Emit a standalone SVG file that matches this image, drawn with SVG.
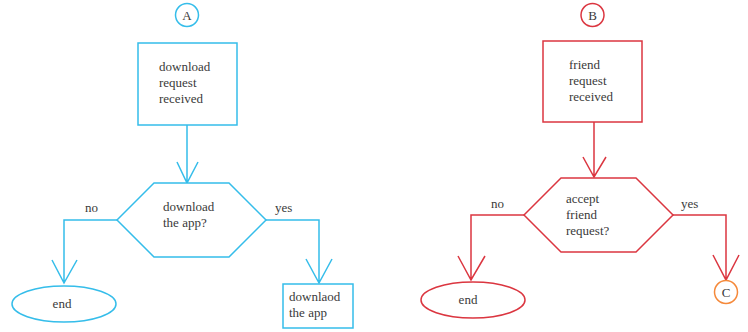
<svg xmlns="http://www.w3.org/2000/svg" width="748" height="332" viewBox="0 0 748 332">
<style>
text{font-family:"Liberation Serif","DejaVu Serif",serif;font-size:13px;fill:#3a3a3a}
.b{fill:#fff;stroke:#35bdea;stroke-width:1.5}
.r{fill:#fff;stroke:#db3640;stroke-width:1.5}
.bl{fill:none;stroke:#35bdea;stroke-width:1.5}
.rl{fill:none;stroke:#db3640;stroke-width:1.5}
.o{fill:#fff;stroke:#f5893a;stroke-width:1.5}
.c{text-anchor:middle}
</style>
<g id="connectors">
<path class="bl" d="M187,125V183M177,162L187,183L198,162"/>
<path class="bl" d="M117,220H64V283M52,260L64,283L77,260"/>
<path class="bl" d="M266,220H319V283M306,259L319,283L332,259"/>
<path class="rl" d="M594,122V177M583,157L594,177L606,157"/>
<path class="rl" d="M524,215H471V280M458,256L471,280L485,256"/>
<path class="rl" d="M673,215H726V280M713,255L726,280L739,255"/>
<text x="85" y="212">no</text>
<text x="275" y="212">yes</text>
<text x="491" y="208">no</text>
<text x="681" y="208">yes</text>
</g>
<g id="A"><circle class="b" cx="187" cy="15" r="11.5"/><text class="c" x="187" y="19.5">A</text></g>
<g id="dl-request"><rect class="b" x="138" y="43" width="99" height="82"/><text x="159" y="71">download</text><text x="159" y="87">request</text><text x="159" y="103">received</text></g>
<g id="dl-decision"><polygon class="b" points="117,220 154,183 229,183 266,220 229,257 154,257"/><text x="163" y="211">download</text><text x="163" y="227">the app?</text></g>
<g id="end-a"><ellipse class="b" cx="64" cy="304" rx="52" ry="18"/><text class="c" x="62" y="308">end</text></g>
<g id="dl-app"><rect class="b" x="283" y="284" width="70" height="44"/><text x="289" y="301">downlaod</text><text x="289" y="317">the app</text></g>
<g id="B"><circle class="r" cx="592.5" cy="15" r="11.5"/><text class="c" x="592.5" y="19.5">B</text></g>
<g id="fr-request"><rect class="r" x="543" y="41" width="99" height="81"/><text x="569" y="69">friend</text><text x="569" y="85">request</text><text x="569" y="101">received</text></g>
<g id="fr-decision"><polygon class="r" points="524,215 561,178 636,178 673,215 636,252 561,252"/><text x="566" y="203">accept</text><text x="566" y="219">friend</text><text x="566" y="235">request?</text></g>
<g id="end-b"><ellipse class="r" cx="473" cy="300" rx="52" ry="18"/><text class="c" x="468" y="304">end</text></g>
<g id="C"><circle class="o" cx="726" cy="292" r="11.5"/><text class="c" x="726" y="296.5">C</text></g>
</svg>
